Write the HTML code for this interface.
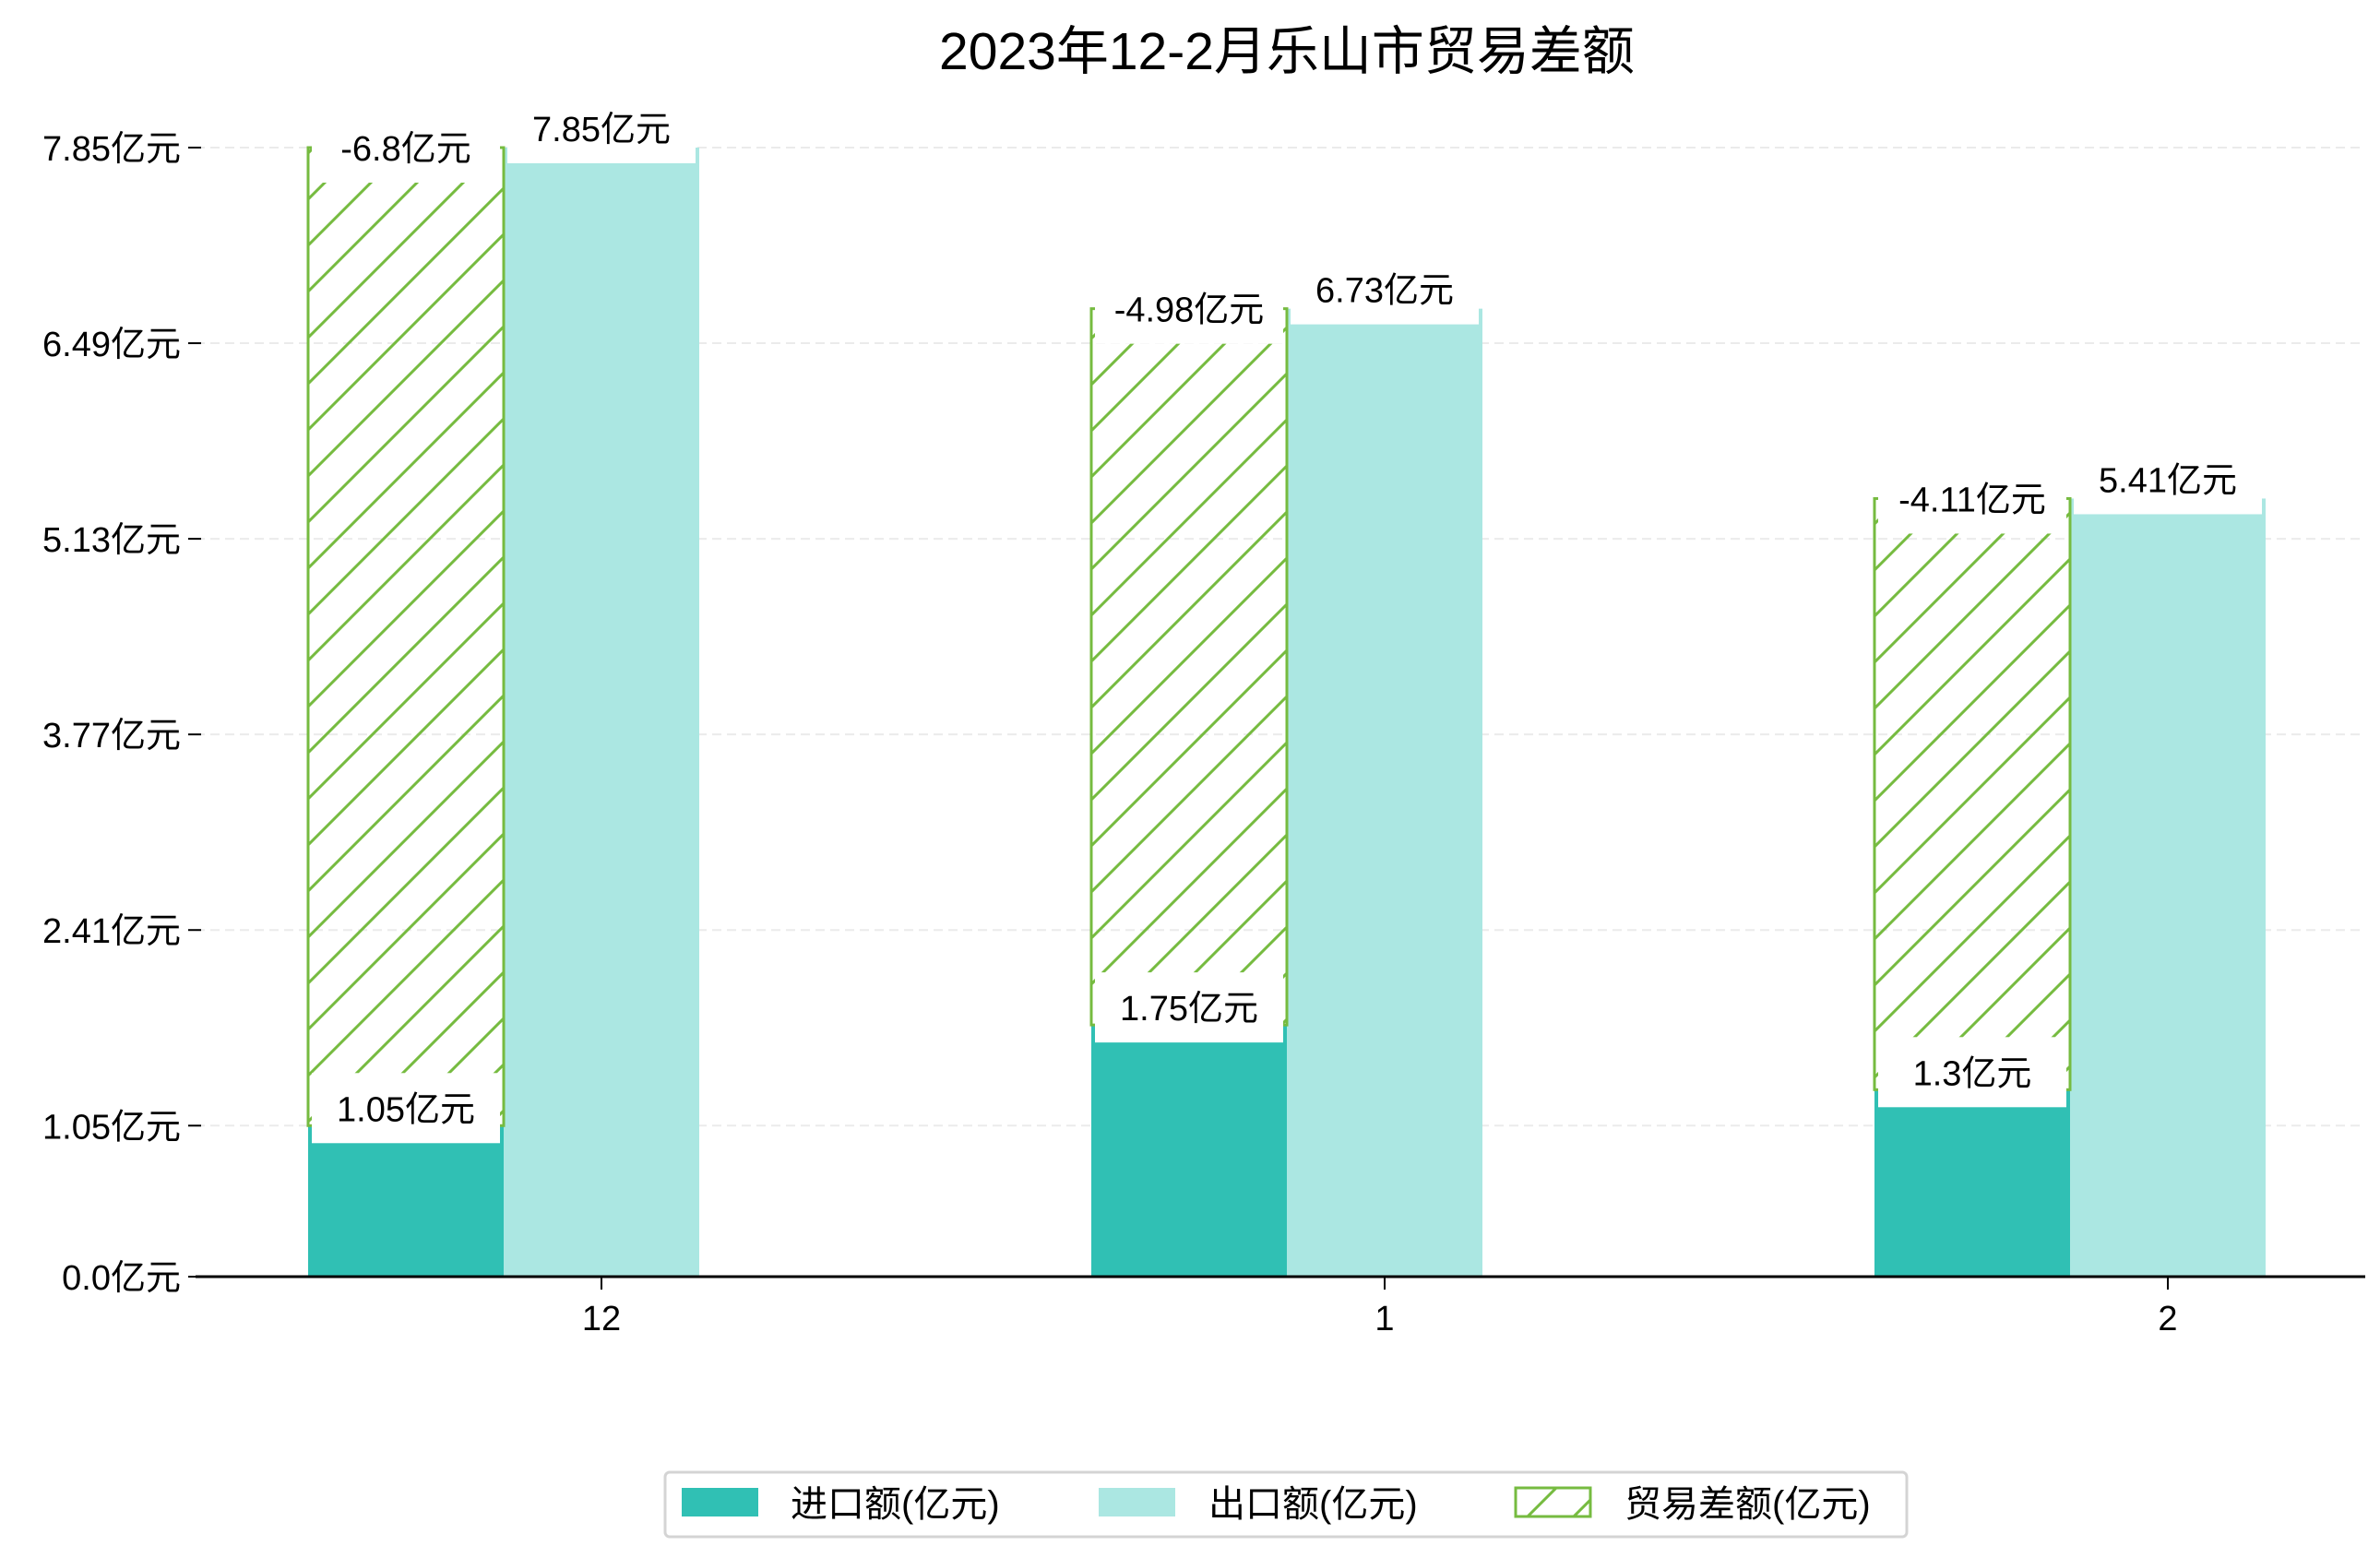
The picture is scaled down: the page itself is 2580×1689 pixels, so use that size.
<!DOCTYPE html>
<html><head><meta charset="utf-8">
<style>
html,body{margin:0;padding:0;background:#fff;}
svg{display:block;font-family:"WenQuanYi Zen Hei","Liberation Sans","Noto Sans CJK SC",sans-serif;}
</style></head>
<body>
<svg id="chart" width="2580" height="1689" viewBox="0 0 2580 1689" xmlns="http://www.w3.org/2000/svg">
<defs>
<pattern id="hatch" patternUnits="userSpaceOnUse" width="50" height="50">
<line x1="0" y1="50" x2="50" y2="0" stroke="#76bb40" stroke-width="3"/>
<line x1="-25" y1="25" x2="25" y2="-25" stroke="#76bb40" stroke-width="3"/>
<line x1="25" y1="75" x2="75" y2="25" stroke="#76bb40" stroke-width="3"/>
</pattern>
</defs>
<text x="1395" y="75" text-anchor="middle" font-size="57">2023年12-2月乐山市贸易差额</text>
<g id="grid"></g><g id="bars"></g><g id="axes"></g><g id="labels"></g>
<g>
<rect x="721" y="1596" width="1346" height="70" rx="5" fill="#fff" stroke="#d4d4d4" stroke-width="3"/>
<rect x="739" y="1613" width="83" height="31" fill="#30c0b4"/>
<text x="857" y="1644" font-size="40">进口额(亿元)</text>
<rect x="1191" y="1613" width="83" height="31" fill="#abe7e2"/>
<text x="1310" y="1644" font-size="40">出口额(亿元)</text>
<rect x="1643" y="1613" width="81" height="31" fill="url(#hatch)" stroke="#76bb40" stroke-width="3"/>
<text x="1761" y="1644" font-size="40">贸易差额(亿元)</text>
</g>
</svg>
<script>
const categories = ["12", "1", "2"];
const importValues = [1.05, 1.75, 1.3];
const exportValues = [7.85, 6.73, 5.41];
const balanceValues = [-6.8, -4.98, -4.11];
const yTicks = [0.0, 1.05, 2.41, 3.77, 5.13, 6.49, 7.85];
const yTickLabels = ["0.0亿元", "1.05亿元", "2.41亿元", "3.77亿元", "5.13亿元", "6.49亿元", "7.85亿元"];

const NS = "http://www.w3.org/2000/svg";
const y0 = 1384, pxPerUnit = (1384 - 160) / 7.85;
const yScale = v => y0 - v * pxPerUnit;
const groupStart = 652, groupStep = 849, barW = 212;
const xCenter = i => groupStart + i * groupStep;
function mk(tag, attrs, parent) {
  const el = document.createElementNS(NS, tag);
  for (const k in attrs) el.setAttribute(k, attrs[k]);
  parent.appendChild(el);
  return el;
}
const grid = document.getElementById('grid'), bars = document.getElementById('bars'),
      axes = document.getElementById('axes'), labels = document.getElementById('labels');

yTicks.forEach((t, i) => {
  const y = yScale(t);
  if (i > 0) {
    const g = mk('line', {x1: 212, x2: 2564, y1: y, y2: y, stroke: '#ebebeb', 'stroke-width': 2, 'stroke-dasharray': '10,6'}, grid);
    
    
  }
  const tk = mk('line', {x1: 204, x2: 218, y1: y, y2: y, stroke: '#000', 'stroke-width': 2}, axes);
  
  
  const lb = mk('text', {x: 196, y: y + 14, 'text-anchor': 'end', 'font-size': 38}, axes);
  lb.textContent = yTickLabels[i];
  
  
});
const ax = mk('line', {x1: 212, x2: 2564, y1: y0, y2: y0, stroke: '#000', 'stroke-width': 3}, axes);



function addLabel(cx, cy, text) {
  const g = mk('g', {}, labels);
  
  
  mk('rect', {x: cx - 102, y: cy - 38, width: 204, height: 76, fill: '#fff'}, g);
  const t = mk('text', {x: cx, y: cy + 14, 'text-anchor': 'middle', 'font-size': 38}, g);
  t.textContent = text;
}

categories.forEach((c, i) => {
  const cx = xCenter(i);
  const xl = cx - 1.5 * barW, xr = cx - 0.5 * barW;
  const imp = mk('rect', {x: xl, y: yScale(importValues[i]), width: barW, height: y0 - yScale(importValues[i]), fill: '#30c0b4'}, bars);
  
  
  const ex = mk('rect', {x: xr, y: yScale(exportValues[i]), width: barW, height: y0 - yScale(exportValues[i]), fill: '#abe7e2'}, bars);
  
  
  const top = importValues[i] - balanceValues[i];
  const hb = mk('rect', {x: xl, y: yScale(top), width: barW, height: yScale(importValues[i]) - yScale(top), fill: 'url(#hatch)', stroke: '#76bb40', 'stroke-width': 3}, bars);
  
  
  const tk = mk('line', {x1: cx, x2: cx, y1: y0, y2: y0 + 14, stroke: '#000', 'stroke-width': 2}, axes);
  
  
  const tl = mk('text', {x: cx, y: y0 + 58, 'text-anchor': 'middle', 'font-size': 38}, axes);
  tl.textContent = c;
  
  

  addLabel(xl + barW / 2, yScale(importValues[i]) - 19, importValues[i] + '亿元');
  addLabel(xr + barW / 2, yScale(exportValues[i]) - 21, exportValues[i] + '亿元');
  addLabel(xl + barW / 2, yScale(top), balanceValues[i] + '亿元');
});
</script>
</body></html>
